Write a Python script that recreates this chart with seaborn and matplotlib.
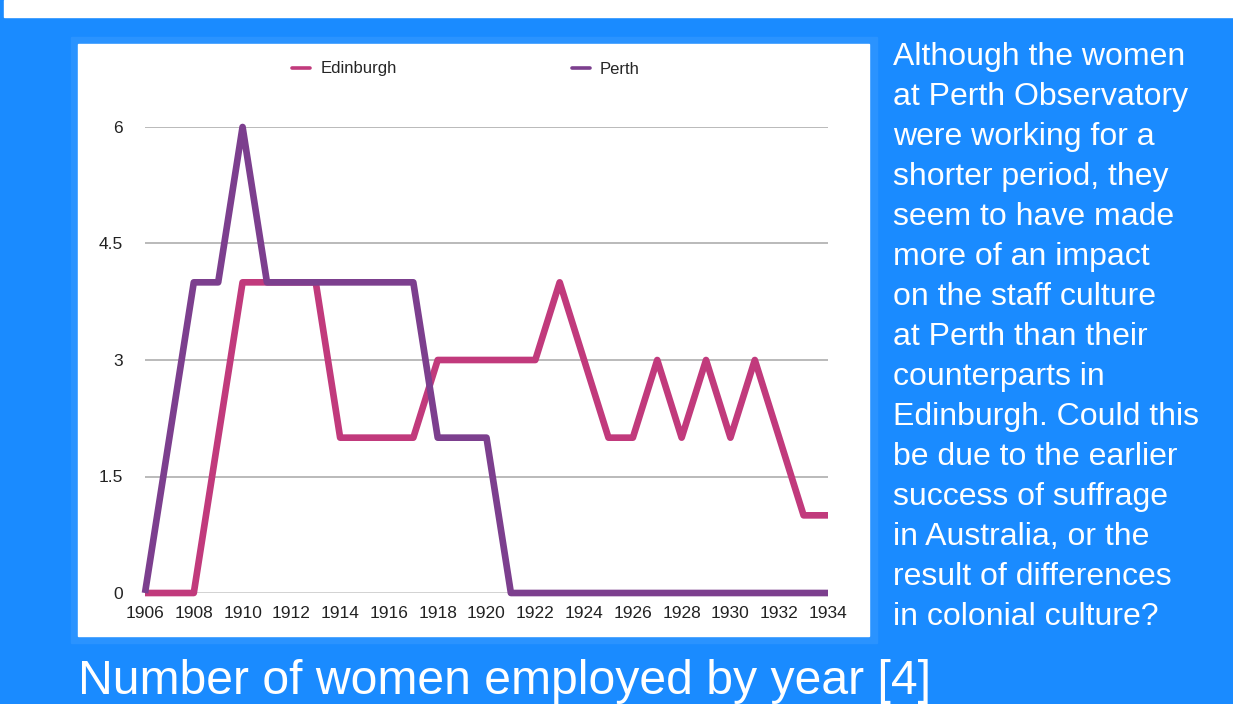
import matplotlib.pyplot as plt
import matplotlib.patches as mpatches
import seaborn as sns
import pandas as pd

years = list(range(1906, 1935))
edinburgh = [0, 0, 0, 2, 4, 4, 4, 4, 2, 2, 2, 2, 3, 3, 3, 3, 3, 4, 3, 2, 2, 3, 2, 3, 2, 3, 2, 1, 1]
perth = [0, 2, 4, 4, 6, 4, 4, 4, 4, 4, 4, 4, 2, 2, 2, 0, 0, 0, 0, 0, 0, 0, 0, 0, 0, 0, 0, 0, 0]
series_names = ["Edinburgh", "Perth"]
series_colors = ["#c13a7c", "#7c3f8e"]
y_ticks = [0, 1.5, 3, 4.5, 6]
y_tick_labels = ["0", "1.5", "3", "4.5", "6"]
x_ticks = list(range(1906, 1935, 2))
caption = "Number of women employed by year [4]"
side_lines = [
    "Although the women",
    "at Perth Observatory",
    "were working for a",
    "shorter period, they",
    "seem to have made",
    "more of an impact",
    "on the staff culture",
    "at Perth than their",
    "counterparts in",
    "Edinburgh. Could this",
    "be due to the earlier",
    "success of suffrage",
    "in Australia, or the",
    "result of differences",
    "in colonial culture?",
]

df = pd.DataFrame({"year": years * 2,
                   "women": edinburgh + perth,
                   "site": ["Edinburgh"] * len(years) + ["Perth"] * len(years)})

sns.set_style("white")
plt.rcParams['font.family'] = ['Liberation Sans', 'DejaVu Sans']

W, H = 1233, 704
blue = "#1a8bff"
fig = plt.figure(figsize=(W / 100, H / 100), dpi=100)
fig.patch.set_facecolor(blue)

# white strip on top
fig.add_artist(mpatches.Rectangle((4 / W, 1 - 17 / H), 1 - 4 / W, 17 / H,
                                  transform=fig.transFigure, color="white", zorder=0))
# chart panel with faint lighter border
fig.add_artist(mpatches.Rectangle((71 / W, 1 - 643 / H), 806 / W, 606 / H,
                                  transform=fig.transFigure, color="#2a93ff", zorder=0))
fig.add_artist(mpatches.Rectangle((78 / W, 1 - 636 / H), 791 / W, 592 / H,
                                  transform=fig.transFigure, color="white", zorder=0))

ax = fig.add_axes([145 / W, 1 - 593 / H, 683 / W, 466 / H])
ax.set_facecolor("none")
sns.lineplot(data=df, x="year", y="women", hue="site", palette=series_colors,
             linewidth=4.8, ax=ax, legend=False, zorder=3)
for ln in ax.lines:
    ln.set_solid_joinstyle("round")
    ln.set_solid_capstyle("butt")
    ln.set_clip_on(False)

ax.set_xlim(1906, 1934)
ax.set_ylim(0, 6)
ax.set_yticks(y_ticks)
ax.set_yticklabels(y_tick_labels)
ax.set_xticks(x_ticks)
ax.set_xticklabels([str(x) for x in x_ticks])
for y in y_ticks[1:]:
    ax.axhline(y, color="#b4b4b4", linewidth=1.3, zorder=1)
ax.axhline(0, color="#222222", linewidth=1.0, zorder=2)
for s in ax.spines.values():
    s.set_visible(False)
ax.tick_params(axis="both", length=0, labelsize=12.5, colors="#222222")
ax.tick_params(axis="y", pad=16)
ax.tick_params(axis="x", pad=9)
ax.set_xlabel("")
ax.set_ylabel("")

handles = [plt.Line2D([], [], color=c, linewidth=2.6) for c in series_colors]
fig.legend(handles, series_names, loc="center left", bbox_to_anchor=(292 / W, 1 - 69 / H),
           ncol=2, frameon=False, fontsize=12, handlelength=1.1, handletextpad=0.6,
           columnspacing=10.5, borderaxespad=0, borderpad=0)

for i, line in enumerate(side_lines):
    fig.text(893 / W, 1 - (57 + 40 * i) / H, line, color="white", fontsize=23,
             va="center", ha="left")

fig.text(78 / W, 1 - 682 / H, caption, color="white", fontsize=34.7, va="center", ha="left")

fig.savefig("out.png", dpi=100, facecolor=fig.get_facecolor())
